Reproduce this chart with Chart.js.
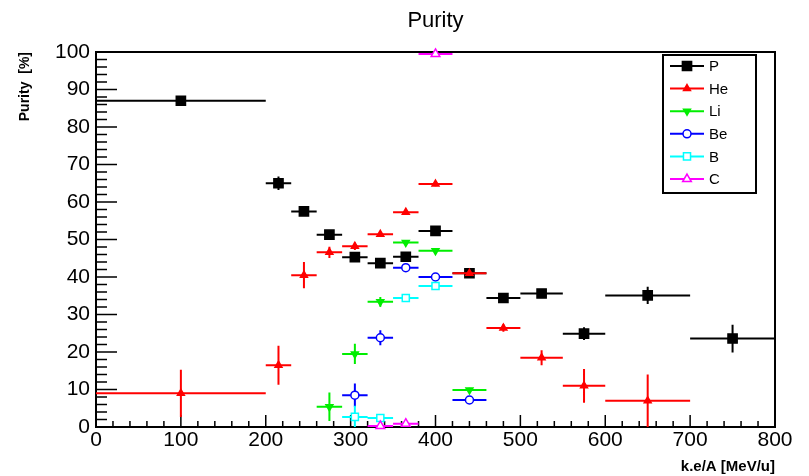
<!doctype html>
<html>
<head>
<meta charset="utf-8">
<title>Purity</title>
<style>
  html, body { margin: 0; padding: 0; background: #fff; }
  canvas { display: block; }
</style>
</head>
<body>
<canvas id="purity" width="809" height="476"></canvas>
<script src="https://cdn.jsdelivr.net/npm/chart.js@4.4.0/dist/chart.umd.min.js"></script>
<script>
// kinetic energy bins [MeV/u]
const binLow  = [0, 200, 230, 260, 290, 320, 350, 380, 420, 460, 500, 550, 600, 700];
const binHigh = [200, 230, 260, 290, 320, 350, 380, 420, 460, 500, 550, 600, 700, 800];
const binMid  = [100, 215, 245, 275, 305, 335, 365, 400, 440, 480, 525, 575, 650, 750];

// purity [%] per species, null = no point in that bin
const pVal  = [87, 65, 57.5, 51.3, 45.3, 43.7, 45.4, 52.3, 41, 34.4, 35.6, 24.9, 35.1, 23.6];
const pErr  = [0.3, 1.8, 0.8, 0.8, 1.2, 0.8, 1, 1, 0.8, 0.8, 1, 1.7, 2.3, 3.7];
const heVal = [9, 16.5, 40.5, 46.6, 48.2, 51.4, 57.3, 64.8, 41, 26.4, 18.5, 11, 7, null];
const heErr = [6.3, 5.2, 3.5, 1.5, 1, 0.6, 0.6, 0.6, 0.6, 1, 2, 4.5, 7, null];
const liVal = [null, null, null, 5.4, 19.5, 33.4, 49.2, 47, 9.9, null, null, null, null, null];
const liErr = [null, null, null, 3.8, 2.7, 1.3, 0.6, 0.6, 0.6, null, null, null, null, null];
const beVal = [null, null, null, null, 8.5, 23.8, 42.5, 40, 7.2, null, null, null, null, null];
const beErr = [null, null, null, null, 3.1, 2, 0.6, 0.6, 0.6, null, null, null, null, null];
const bVal  = [null, null, null, null, 2.7, 2.4, 34.4, 37.6, null, null, null, null, null, null];
const bErr  = [null, null, null, null, 3, 0.8, 0.6, 0.6, null, null, null, null, null, null];
const cVal  = [null, null, null, null, null, 0.3, 0.9, 99.5, null, null, null, null, null, null];
const cErr  = [null, null, null, null, null, 0.3, 0.5, 0.5, null, null, null, null, null, null];

const xTicks = [0, 100, 200, 300, 400, 500, 600, 700, 800];
const yTicks = [0, 10, 20, 30, 40, 50, 60, 70, 80, 90, 100];

function points(vals, errs) {
  const out = [];
  vals.forEach((v, i) => {
    if (v === null) return;
    out.push({ x: binMid[i], y: v, xl: binLow[i], xh: binHigh[i], ey: errs[i] });
  });
  return out;
}

function series(label, vals, errs, color, style, radius, fill, rotation, order) {
  return {
    label: label,
    data: points(vals, errs),
    borderColor: color,
    backgroundColor: color,
    pointStyle: style,
    pointRadius: radius,
    pointHoverRadius: radius,
    pointBackgroundColor: fill,
    pointBorderColor: color,
    pointBorderWidth: 1.5,
    pointRotation: rotation,
    showLine: false,
    clip: false,
    order: order
  };
}

// ROOT style error bars, drawn under each dataset's markers
const errorBars = {
  id: 'errorBars',
  beforeDatasetDraw(chart, args) {
    const ds = chart.data.datasets[args.index];
    const xs = chart.scales.x, ys = chart.scales.y;
    const ctx = chart.ctx;
    ctx.save();
    ctx.strokeStyle = ds.borderColor;
    ctx.lineWidth = 2;
    ctx.beginPath();
    ds.data.forEach(d => {
      const px = xs.getPixelForValue(d.x), py = ys.getPixelForValue(d.y);
      ctx.moveTo(xs.getPixelForValue(d.xl), py);
      ctx.lineTo(xs.getPixelForValue(d.xh), py);
      if (d.ey) {
        ctx.moveTo(px, ys.getPixelForValue(Math.max(0, d.y - d.ey)));
        ctx.lineTo(px, ys.getPixelForValue(d.y + d.ey));
      }
    });
    ctx.stroke();
    ctx.restore();
  }
};

// frame with inward ticks, like ROOT
const rootFrame = {
  id: 'rootFrame',
  beforeDatasetsDraw(chart) {
    const { ctx, chartArea: a, scales: { x, y } } = chart;
    ctx.save();
    ctx.strokeStyle = '#000';
    ctx.lineWidth = 1.5;
    ctx.beginPath();
    for (let v = 0; v <= 800; v += 20) {
      const px = x.getPixelForValue(v);
      const len = v % 100 === 0 ? 12 : 6;
      ctx.moveTo(px, a.bottom);
      ctx.lineTo(px, a.bottom - len);
    }
    for (let v = 0; v <= 100; v += 2) {
      const py = y.getPixelForValue(v);
      const len = v % 10 === 0 ? 21 : 11;
      ctx.moveTo(a.left, py);
      ctx.lineTo(a.left + len, py);
    }
    ctx.stroke();
    ctx.lineWidth = 2;
    ctx.strokeRect(a.left, a.top, a.right - a.left, a.bottom - a.top);
    ctx.restore();
  }
};

// legend box in the top right corner
const rootLegend = {
  id: 'rootLegend',
  afterDatasetsDraw(chart) {
    const ctx = chart.ctx;
    const bx = 663, by = 55, bw = 93, bh = 138;
    ctx.save();
    ctx.fillStyle = '#fff';
    ctx.fillRect(bx, by, bw, bh);
    ctx.strokeStyle = '#000';
    ctx.lineWidth = 2;
    ctx.strokeRect(bx, by, bw, bh);
    ctx.font = '15px "Liberation Sans", Arial, sans-serif';
    ctx.textBaseline = 'middle';
    chart.data.datasets.forEach((ds, i) => {
      const ly = 66 + i * 22.6;
      ctx.strokeStyle = ds.borderColor;
      ctx.lineWidth = 2;
      ctx.beginPath();
      ctx.moveTo(670, ly);
      ctx.lineTo(704, ly);
      ctx.stroke();
      ctx.fillStyle = ds.pointBackgroundColor;
      ctx.lineWidth = ds.pointBorderWidth;
      Chart.helpers.drawPoint(ctx, {
        pointStyle: ds.pointStyle,
        rotation: ds.pointRotation,
        radius: ds.pointRadius,
        borderWidth: ds.pointBorderWidth
      }, 687, ly);
      ctx.fillStyle = '#000';
      ctx.fillText(ds.label, 709, ly + 1);
    });
    ctx.restore();
  }
};

const font = '"Liberation Sans", Arial, sans-serif';

new Chart(document.getElementById('purity'), {
  type: 'scatter',
  data: {
    datasets: [
      series('P',  pVal,  pErr,  '#000000', 'rect',     6.5, '#000000', 0,   6),
      series('He', heVal, heErr, '#ff0000', 'triangle', 4,   '#ff0000', 0,   5),
      series('Li', liVal, liErr, '#00ee00', 'triangle', 4,   '#00ee00', 180, 4),
      series('Be', beVal, beErr, '#0000ff', 'circle',   4,   '#ffffff', 0,   3),
      series('B',  bVal,  bErr,  '#00ffff', 'rect',     5,   '#ffffff', 0,   2),
      series('C',  cVal,  cErr,  '#ff00ff', 'triangle', 5,   '#ffffff', 0,   1)
    ]
  },
  options: {
    responsive: false,
    animation: false,
    devicePixelRatio: 1,
    layout: { padding: { left: 0, right: 34, top: 0, bottom: 0 } },
    plugins: {
      legend: { display: false },
      tooltip: { enabled: false },
      title: {
        display: true,
        text: 'Purity',
        fullSize: false,
        color: '#000',
        font: { family: font, size: 22, weight: 'normal' },
        padding: { top: 8, bottom: 17.6 }
      }
    },
    scales: {
      x: {
        type: 'linear',
        min: 0,
        max: 800,
        afterBuildTicks: s => { s.ticks = xTicks.map(v => ({ value: v })); },
        afterFit: s => { s.height = 49; },
        grid: { display: false, drawTicks: false },
        border: { display: false },
        ticks: { color: '#000', autoSkip: false, maxRotation: 0, padding: 1, font: { family: font, size: 21 } },
        title: {
          display: true,
          text: 'k.e/A [MeV/u]',
          align: 'end',
          color: '#000',
          font: { family: font, size: 15, weight: 'bold' },
          padding: { top: 0, bottom: 0 }
        }
      },
      y: {
        min: 0,
        max: 100,
        afterBuildTicks: s => { s.ticks = yTicks.map(v => ({ value: v })); },
        afterFit: s => { s.width = 96; },
        grid: { display: false, drawTicks: false },
        border: { display: false },
        ticks: { color: '#000', padding: 6, font: { family: font, size: 21 } },
        title: {
          display: true,
          text: 'Purity  [%]',
          align: 'end',
          color: '#000',
          font: { family: font, size: 14, weight: 'bold' },
          padding: { top: 17, bottom: 0 }
        }
      }
    }
  },
  plugins: [errorBars, rootFrame, rootLegend]
});
</script>
</body>
</html>
